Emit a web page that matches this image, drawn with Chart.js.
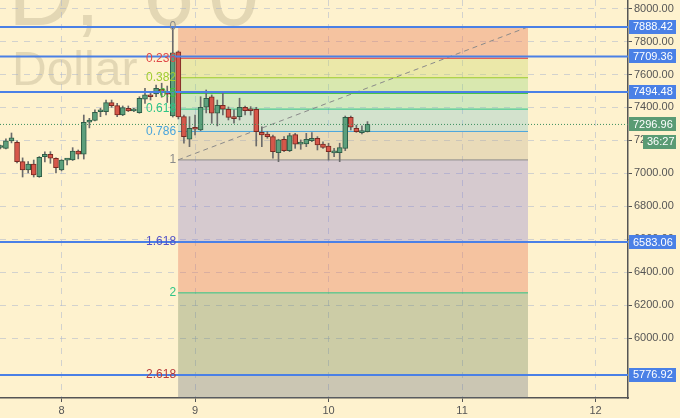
<!DOCTYPE html>
<html>
<head>
<meta charset="utf-8">
<script src="https://cdn.jsdelivr.net/npm/chart.js@4.4.1/dist/chart.umd.min.js"></script>
<style>
  html, body { margin: 0; padding: 0; background: #fef2ce; }
  #wrap { width: 680px; height: 418px; position: relative; }
</style>
</head>
<body>
<div id="wrap"><canvas id="chart"></canvas></div>
<script>
// hourly candles, first one is 11 hours before day 8 00:00
var firstHour = -11;
var opens  = [7157, 7152, 7197, 7189, 7071, 7021, 7057, 6980, 7101, 7116, 7092,
              7021, 7080, 7081, 7136, 7116, 7310, 7321, 7374, 7374, 7429, 7411, 7354, 7395, 7379, 7368, 7450, 7471, 7482, 7512, 7496, 7348, 7737, 7344, 7207,
              7277, 7263, 7401, 7465, 7365, 7413, 7389, 7340, 7344, 7401, 7383, 7389, 7249, 7239, 7223, 7126, 7207, 7138, 7235, 7177, 7178, 7198, 7213, 7178,
              7166, 7124, 7126, 7152, 7340, 7274, 7247, 7253];
var highs  = [7172, 7209, 7245, 7197, 7094, 7071, 7081, 7102, 7130, 7132, 7094,
              7083, 7092, 7156, 7142, 7354, 7334, 7385, 7395, 7445, 7445, 7425, 7409, 7409, 7395, 7465, 7516, 7490, 7536, 7547, 7530, 7888.42, 7743, 7354, 7344,
              7354, 7465, 7506, 7476, 7445, 7490, 7403, 7385, 7456, 7409, 7405, 7401, 7283, 7253, 7233, 7207, 7223, 7243, 7243, 7203, 7243, 7247, 7223, 7192,
              7183, 7152, 7183, 7348, 7348, 7293, 7288, 7314];
var lows   = [7148, 7148, 7185, 7063, 6978, 7003, 6978, 6976, 7069, 7061, 7003,
              7015, 7051, 7078, 7088, 7087, 7276, 7318, 7344, 7354, 7401, 7344, 7350, 7375, 7375, 7365, 7425, 7445, 7465, 7462, 7430, 7342, 7330, 7183, 7162,
              7233, 7259, 7367, 7304, 7288, 7354, 7324, 7304, 7324, 7354, 7354, 7166, 7162, 7213, 7092, 7071, 7132, 7132, 7152, 7146, 7162, 7192, 7142, 7152,
              7081, 7101, 7071, 7138, 7263, 7249, 7239, 7251];
var closes = [7163, 7198, 7215, 7071, 7021, 7057, 6990, 7098, 7116, 7092, 7035,
              7081, 7086, 7136, 7116, 7310, 7324, 7370, 7385, 7429, 7411, 7354, 7399, 7379, 7383, 7456, 7476, 7465, 7516, 7496, 7480, 7731, 7342, 7223, 7274,
              7268, 7401, 7456, 7365, 7413, 7389, 7340, 7332, 7401, 7381, 7380, 7253, 7233, 7223, 7132, 7203, 7138, 7229, 7177, 7186, 7207, 7213, 7172, 7158,
              7132, 7130, 7156, 7340, 7280, 7253, 7259, 7296.96];

// fibonacci retracement
var fibRatios = [0, 0.236, 0.382, 0.5, 0.618, 0.786, 1, 1.618, 2, 2.618, 3.618];
var fibHigh = 7888.42;
var fibLow = 7081.7;
var fibStart = 8.873;
var fibEnd = 11.494;

// horizontal levels and last price
var blueLevels = [7888.42, 7709.36, 7494.48, 6583.06, 5776.92];
var lastPrice = 7296.96;
var countdown = '36:27';

var xTicks = [8, 9, 10, 11, 12];
var yTicks = [6000, 6200, 6400, 6600, 6800, 7000, 7200, 7400, 7600, 7800, 8000];
var xMin = 7.539, xMax = 12.243;
var yMin = 5637, yMax = 8052;

var bgColor = '#fef2ce';
var fibLineColors = ['#8c8c8c', '#e04848', '#9fcc2e', '#3fc03f', '#2fc486', '#4aa5dc', '#8c8c8c', '#5252c8', '#2fc486', '#b83c3c', 'rgba(0,0,0,0)'];
var fibZoneColors = [null, 'rgba(230,110,80,0.36)', 'rgba(200,215,100,0.34)', 'rgba(140,212,110,0.32)', 'rgba(114,209,160,0.3)',
                     'rgba(114,189,203,0.3)', 'rgba(190,170,140,0.32)', 'rgba(121,110,210,0.3)', 'rgba(230,110,80,0.36)',
                     'rgba(100,125,80,0.32)', 'rgba(95,105,120,0.32)'];
var blueColor = '#4a80e6';
var greenBox = '#5a9b74';

function fibPrice(r) { return fibHigh - r * (fibHigh - fibLow); }

Chart.defaults.font.family = "'Liberation Sans', Arial, sans-serif";
Chart.defaults.font.size = 11;
Chart.defaults.color = '#555';

var wicks = [], bodies = [], bodyFill = [], bodyEdge = [];
for (var i = 0; i < opens.length; i++) {
  var x = 8 + (firstHour + i) / 24;
  var up = closes[i] >= opens[i];
  wicks.push({ x: x, y: [lows[i], highs[i]] });
  bodies.push({ x: x, y: [opens[i], closes[i]] });
  bodyFill.push(up ? '#5c9f7c' : '#d6574a');
  bodyEdge.push(up ? '#2f5e47' : '#7a2a22');
}

var datasets = [];

// candles
datasets.push({ type: 'bar', data: bodies, backgroundColor: bodyFill, borderColor: bodyEdge, borderWidth: 1,
  borderSkipped: false, barThickness: 5, minBarLength: 2, grouped: false, order: 2 });
datasets.push({ type: 'bar', data: wicks, backgroundColor: '#6b6b6b', barThickness: 1, grouped: false, order: 3 });

// blue horizontal lines
blueLevels.forEach(function (v) {
  datasets.push({ type: 'line', data: [{ x: xMin, y: v }, { x: xMax, y: v }], borderColor: blueColor, borderWidth: 2,
    pointRadius: 0, fill: false, order: 1 });
});

// last price dotted line
datasets.push({ type: 'line', data: [{ x: xMin, y: lastPrice }, { x: xMax, y: lastPrice }], borderColor: '#3d8f5f',
  borderWidth: 1, borderDash: [1, 2], pointRadius: 0, fill: false, order: 1 });

// fib trend line
datasets.push({ type: 'line', data: [{ x: fibStart, y: fibLow }, { x: fibEnd, y: fibHigh }], borderColor: '#8a8a8a',
  borderWidth: 1, borderDash: [5, 4], pointRadius: 0, fill: false, order: 4 });

// fib levels with zones
fibRatios.forEach(function (r, k) {
  var p = fibPrice(r);
  datasets.push({ type: 'line', data: [{ x: fibStart, y: p }, { x: fibEnd, y: p }], borderColor: fibLineColors[k],
    borderWidth: 1, pointRadius: 0, fill: k === 0 ? false : '-1', backgroundColor: fibZoneColors[k] || 'transparent', order: 10 });
});

var overlay = {
  id: 'overlay',
  beforeDraw: function (chart) {
    var ctx = chart.ctx;
    ctx.save();
    ctx.fillStyle = bgColor;
    ctx.fillRect(0, 0, chart.width, chart.height);
    ctx.fillStyle = 'rgba(120,110,80,0.2)';
    ctx.textBaseline = 'alphabetic';
    ctx.font = "92px 'Liberation Sans'";
    ctx.fillText('D,', 8, 25);
    ctx.fillText('6', 143, 25);
    ctx.fillText('0', 208, 25);
    ctx.font = "48px 'Liberation Sans'";
    ctx.fillText('Dollar', 12, 85);
    ctx.restore();
  },
  afterDatasetsDraw: function (chart) {
    var ctx = chart.ctx, xs = chart.scales.x, ys = chart.scales.y;
    var px = xs.getPixelForValue(fibStart) - 2;
    ctx.save();
    ctx.font = "12px 'Liberation Sans'";
    ctx.textAlign = 'right';
    ctx.textBaseline = 'middle';
    fibRatios.forEach(function (r, k) {
      if (k === fibRatios.length - 1) return;
      ctx.fillStyle = (r === 0 || r === 1) ? '#8a8a8a' : fibLineColors[k];
      ctx.fillText(String(r), px, ys.getPixelForValue(fibPrice(r)));
    });
    ctx.restore();
  },
  afterDraw: function (chart) {
    var ctx = chart.ctx, ys = chart.scales.y;
    var left = chart.chartArea.right + 1;
    function box(v, text, color, x0, w, dy) {
      var y = ys.getPixelForValue(v) + (dy || 0);
      ctx.fillStyle = color;
      ctx.fillRect(x0, Math.round(y) - 7, w, 14);
      ctx.fillStyle = '#fff';
      ctx.fillText(text, x0 + 4, y + 0.5);
    }
    ctx.save();
    ctx.font = "11px 'Liberation Sans'";
    ctx.textAlign = 'left';
    ctx.textBaseline = 'middle';
    blueLevels.forEach(function (v) { box(v, v.toFixed(2), blueColor, left, 47); });
    box(lastPrice, lastPrice.toFixed(2), greenBox, left, 47);
    box(lastPrice, countdown, greenBox, left + 14, 33, 17.5);
    ctx.restore();
  }
};

new Chart(document.getElementById('chart'), {
  type: 'bar',
  data: { datasets: datasets },
  options: {
    responsive: true,
    maintainAspectRatio: false,
    animation: false,
    layout: { padding: 0 },
    plugins: { legend: { display: false }, tooltip: { enabled: false } },
    scales: {
      x: {
        type: 'linear', min: xMin, max: xMax, offset: false,
        afterBuildTicks: function (s) { s.ticks = xTicks.map(function (v) { return { value: v }; }); },
        afterFit: function (s) { s.height = 20; s.paddingLeft = 0; s.paddingRight = 0; },
        ticks: { padding: 2, color: '#555', callback: function (v) { return String(v); } },
        grid: { offset: false, color: 'rgba(165,178,205,0.5)', tickColor: '#555', tickLength: 4, tickWidth: 1 },
        border: { color: '#555', width: 1.5, dash: [6, 6] }
      },
      y: {
        position: 'right', min: yMin, max: yMax,
        afterBuildTicks: function (s) { s.ticks = yTicks.map(function (v) { return { value: v }; }); },
        afterFit: function (s) { s.width = 52; s.paddingTop = 0; s.paddingBottom = 0; },
        ticks: { padding: 2, color: '#555', callback: function (v) { return v.toFixed(2); } },
        grid: { offset: false, color: 'rgba(165,178,205,0.5)', tickColor: '#555', tickLength: 4, tickWidth: 1 },
        border: { color: '#555', width: 1.5, dash: [6, 6] }
      }
    }
  },
  plugins: [overlay]
});
</script>
</body>
</html>
